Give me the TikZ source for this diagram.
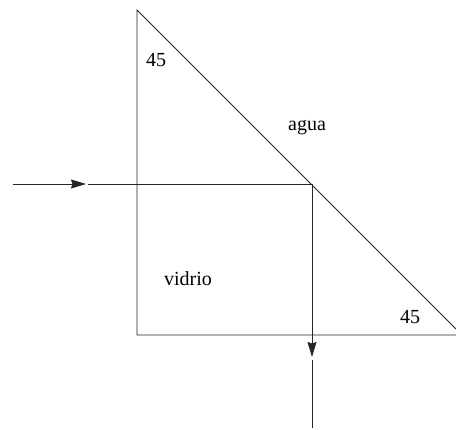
\documentclass[tikz,border=0pt]{standalone}
\usepackage{fontspec}
\setmainfont{Liberation Serif}
\usetikzlibrary{arrows.meta}
\begin{document}
\begin{tikzpicture}[x=1pt,y=-1pt,
  edge/.style={line width=0.8pt,draw=black!85},
  ray/.style={line width=0.8pt,draw=black!85},
  tipped/.style={-{Stealth[length=15pt,width=9pt,inset=1.5pt]}},
  lbl/.style={font=\fontsize{20}{22}\selectfont,inner sep=0pt}]
\useasboundingbox (0,0) rectangle (456,430);
\begin{scope}
\clip (0,0) rectangle (456,430);
\coordinate (top) at (137,10);
\coordinate (bl) at (137,335);
\coordinate (br) at (462,335);
\draw[edge] (top) -- (bl) -- (br) -- cycle;
\coordinate (in) at (13,184);
\coordinate (tipA) at (86,184);
\coordinate (restA) at (88,184);
\coordinate (hit) at (312,184);
\coordinate (tipB) at (312,357);
\coordinate (restB) at (312,360);
\coordinate (out) at (312,428);
\draw[ray,tipped] (in) -- (tipA);
\draw[ray] (restA) -- (hit);
\draw[ray,tipped] (hit) -- (tipB);
\draw[ray] (restB) -- (out);
\end{scope}
\node[lbl] (a1) at (156,60) {45};
\node[lbl] (a2) at (410,317) {45};
\node[lbl] (agua) at (307,128) {agua};
\node[lbl] (vidrio) at (188,279) {vidrio};
\end{tikzpicture}
\end{document}
